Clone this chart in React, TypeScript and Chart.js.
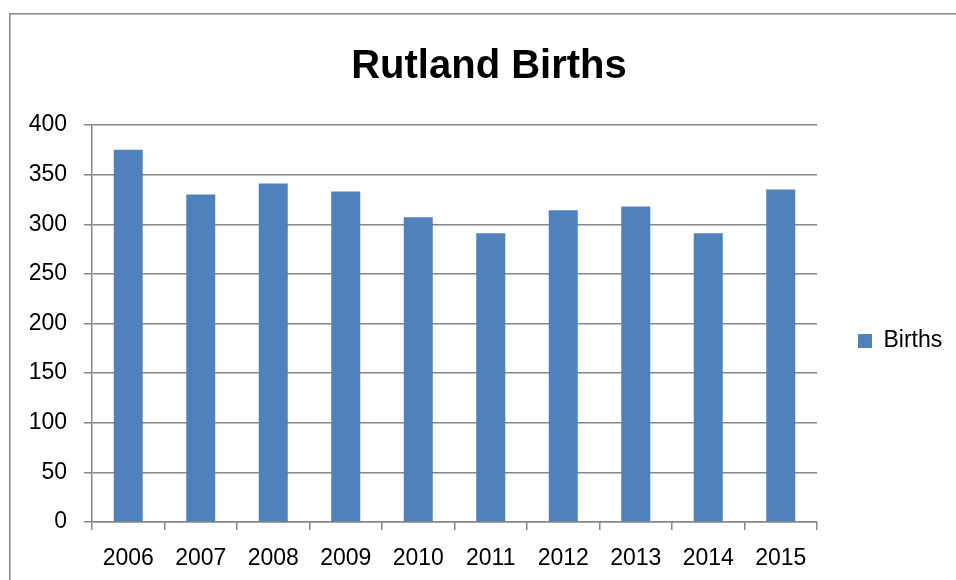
import React, { useEffect, useRef } from "react";
import { Chart, registerables } from "chart.js";

Chart.register(...registerables);

const chartTitle = "Rutland Births";
const seriesLabel = "Births";
const years = ["2006", "2007", "2008", "2009", "2010", "2011", "2012", "2013", "2014", "2015"];
const births = [375, 330, 341, 333, 307, 291, 314, 318, 291, 335];
const yMin = 0;
const yMax = 400;
const yStep = 50;

const FONT = '"Liberation Sans", Arial, sans-serif';
const BAR = "#4F81BD";
const GRID = "#868686";

export default function App() {
  const ref = useRef<HTMLCanvasElement>(null);

  useEffect(() => {
    const canvas = ref.current;
    if (!canvas) return;
    const legendWidth = 152;

    const chartFrame = {
      id: "chartFrame",
      beforeDraw(chart: any) {
        const { ctx, width, height } = chart;
        ctx.save();
        ctx.fillStyle = "#ffffff";
        ctx.fillRect(0, 0, width, height);
        ctx.strokeStyle = GRID;
        ctx.lineWidth = 1.5;
        ctx.beginPath();
        ctx.moveTo(0.75, height + 5);
        ctx.lineTo(0.75, 0.75);
        ctx.lineTo(width + 5, 0.75);
        ctx.stroke();
        ctx.restore();
      },
    };

    const legendWidthFix = {
      id: "legendWidthFix",
      beforeLayout(chart: any) {
        const lg = chart.legend;
        if (lg && !lg.__fixed) {
          const orig = lg.fit;
          lg.fit = function (this: any) {
            orig.call(this);
            this.width = legendWidth;
          };
          lg.__fixed = true;
        }
      },
    };

    const chart = new Chart(canvas, {
      type: "bar",
      data: {
        labels: years,
        datasets: [
          {
            label: seriesLabel,
            data: births,
            backgroundColor: BAR,
            borderWidth: 0,
            barPercentage: 0.4,
            categoryPercentage: 1,
          },
        ],
      },
      options: {
        responsive: false,
        animation: false,
        devicePixelRatio: 1,
        layout: { padding: 0 },
        plugins: {
          title: {
            display: true,
            text: chartTitle,
            color: "#000",
            font: { family: FONT, size: 40, weight: "bold", lineHeight: 1.2 },
            padding: { top: 30, bottom: 34 },
          },
          legend: {
            position: "right",
            align: "center",
            labels: {
              boxWidth: 14,
              boxHeight: 14,
              padding: 41,
              color: "#000",
              font: { family: FONT, size: 23 },
            },
          },
          tooltip: { enabled: false },
        },
        scales: {
          x: {
            offset: true,
            grid: {
              offset: true,
              drawOnChartArea: false,
              drawTicks: true,
              tickLength: 8,
              color: GRID,
              lineWidth: 1.5,
            },
            border: { color: GRID, width: 1.5 },
            ticks: {
              color: "#000",
              font: { family: FONT, size: 23 },
              padding: 15,
              maxRotation: 0,
              autoSkip: false,
            },
            afterFit: (s: any) => {
              s.height = 147;
            },
          },
          y: {
            min: yMin,
            max: yMax,
            grid: { color: GRID, lineWidth: 1.5, tickLength: 8, drawTicks: true },
            border: { color: GRID, width: 1.5 },
            ticks: {
              stepSize: yStep,
              color: "#000",
              font: { family: FONT, size: 23 },
              padding: 17,
            },
            afterFit: (s: any) => {
              s.width = 83;
            },
          },
        },
      },
      plugins: [chartFrame, legendWidthFix],
    });

    return () => chart.destroy();
  }, []);

  return (
    <div
      style={{
        position: "fixed",
        left: 0,
        top: 0,
        width: 956,
        height: 580,
        overflow: "hidden",
        background: "#fff",
      }}
    >
      <canvas
        ref={ref}
        width={960}
        height={656}
        style={{ position: "absolute", left: 9, top: 13, width: 960, height: 656 }}
      />
    </div>
  );
}
